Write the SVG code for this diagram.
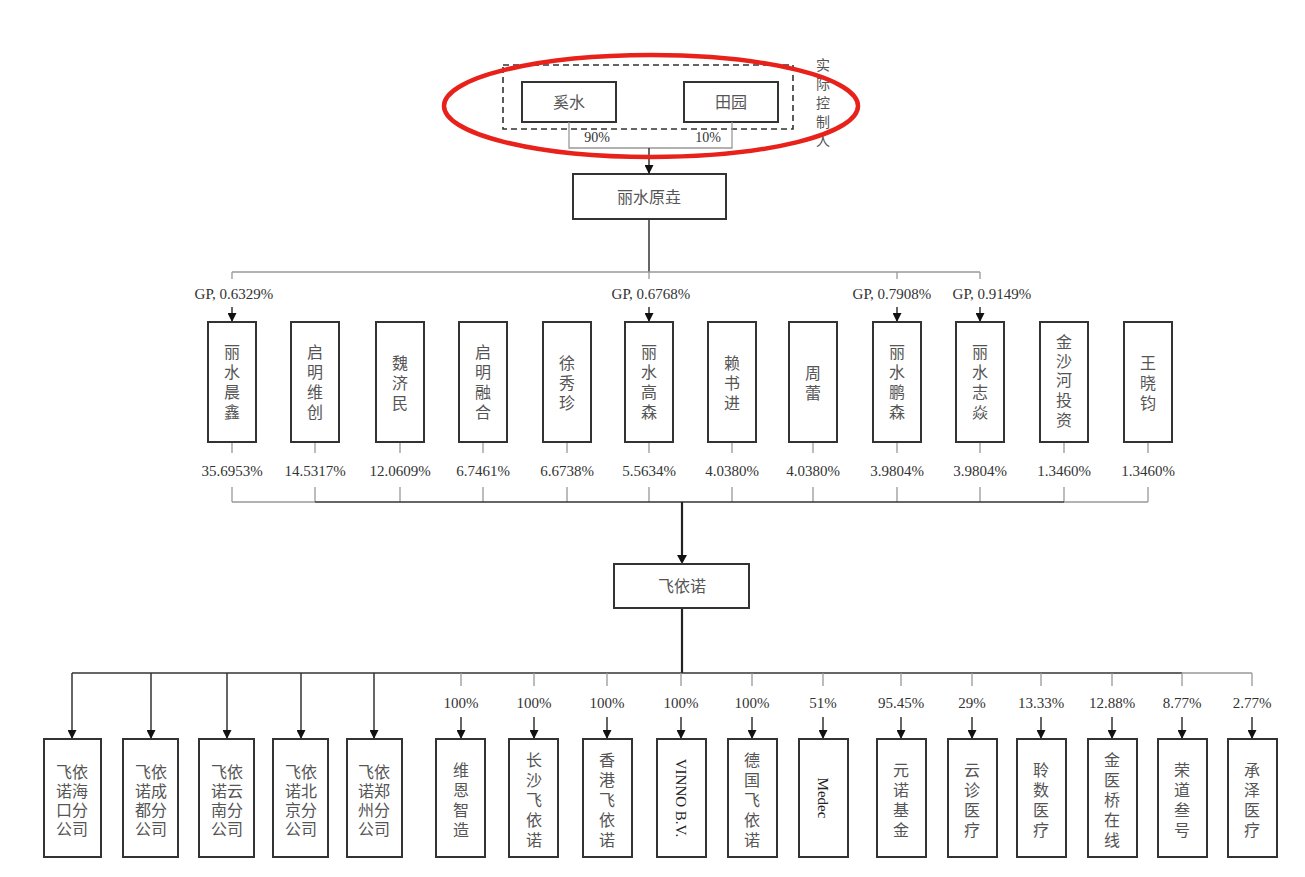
<svg xmlns="http://www.w3.org/2000/svg" width="1305" height="877" viewBox="0 0 1305 877">
<style>
.box{fill:#fff;stroke:#333;stroke-width:2}
.cjk{font-family:"Liberation Serif","Noto Sans CJK SC",serif;font-size:16px;fill:#555;text-anchor:middle;dominant-baseline:central}
.num{font-family:"Liberation Serif","Noto Sans CJK SC",serif;font-size:15px;fill:#333;text-anchor:middle;dominant-baseline:central}
.lat{font-family:"Liberation Serif",serif;font-size:15px;fill:#222;text-anchor:middle;dominant-baseline:central}
.ln{fill:none;stroke:#333;stroke-width:1.5}
.lg{fill:none;stroke:#999;stroke-width:1.3}
.thick{fill:none;stroke:#222;stroke-width:2.2}
.arr{fill:none;stroke:#333;stroke-width:1.5;marker-end:url(#ah)}
</style>
<defs>
<marker id="ah" viewBox="0 0 10 10" refX="10" refY="5" markerWidth="9" markerHeight="9" markerUnits="userSpaceOnUse" orient="auto">
<path d="M0,0 L10,5 L0,10 z" fill="#111"/>
</marker>
</defs>
<rect width="1305" height="877" fill="#fff"/>

<g id="controller">
<rect x="503" y="65" width="290" height="64" fill="none" stroke="#333" stroke-width="1.6" stroke-dasharray="6,4"/>
<text class="cjk" style="font-size:14px">
<tspan x="823" y="65">实</tspan><tspan x="823" y="84">际</tspan><tspan x="823" y="103">控</tspan><tspan x="823" y="122">制</tspan><tspan x="823" y="141">人</tspan>
</text>
</g>
<g id="n-xishui"><rect class="box" x="522" y="82" width="94" height="40"/><text class="cjk" x="569" y="102">奚水</text></g>
<g id="n-tianyuan"><rect class="box" x="684" y="82" width="94" height="40"/><text class="cjk" x="731" y="102">田园</text></g>
<g id="n-yuanyao"><rect class="box" x="573" y="174" width="153" height="45"/><text class="cjk" x="649" y="197">丽水原垚</text></g>

<g id="connectors">
<path class="lg" d="M569,122 V148 H732 V122"/>
<text class="num" x="597" y="137" style="font-size:14px">90%</text>
<text class="num" x="708" y="137" style="font-size:14px">10%</text>
<path class="arr" d="M649,148 V174"/>
<path class="ln" d="M649,219 V272"/>
<path class="lg" d="M232,272 H980"/>
<path class="lg" d="M232,272 V279 M649,272 V279 M897,272 V279 M980,272 V279"/>
<text class="num" x="234" y="294">GP, 0.6329%</text>
<text class="num" x="651" y="294">GP, 0.6768%</text>
<text class="num" x="892" y="294">GP, 0.7908%</text>
<text class="num" x="992" y="294">GP, 0.9149%</text>
<path class="arr" d="M232,307 V322"/>
<path class="arr" d="M649,307 V322"/>
<path class="arr" d="M897,307 V322"/>
<path class="arr" d="M980,307 V322"/>
<path class="lg" d="M232,442 V453 M315,442 V453 M400,442 V453 M483,442 V453 M567,442 V453 M649,442 V453 M732,442 V453 M813,442 V453 M897,442 V453 M980,442 V453 M1064,442 V453 M1148,442 V453"/>
<path class="lg" d="M232,487 V502 M315,487 V502 M400,487 V502 M483,487 V502 M567,487 V502 M649,487 V502 M732,487 V502 M813,487 V502 M897,487 V502 M980,487 V502 M1064,487 V502 M1148,487 V502"/>
<path class="lg" d="M232,502 H315"/>
<path class="ln" d="M315,502 H1064"/>
<path class="lg" d="M1064,502 H1148"/>
<text class="num" x="232" y="471">35.6953%</text>
<text class="num" x="315" y="471">14.5317%</text>
<text class="num" x="400" y="471">12.0609%</text>
<text class="num" x="483" y="471">6.7461%</text>
<text class="num" x="567" y="471">6.6738%</text>
<text class="num" x="649" y="471">5.5634%</text>
<text class="num" x="732" y="471">4.0380%</text>
<text class="num" x="813" y="471">4.0380%</text>
<text class="num" x="897" y="471">3.9804%</text>
<text class="num" x="980" y="471">3.9804%</text>
<text class="num" x="1064" y="471">1.3460%</text>
<text class="num" x="1148" y="471">1.3460%</text>
<path class="thick" d="M682,502 V556"/>
<path d="M677,555 L687,555 L682,564 z" fill="#111"/>
<path class="thick" d="M682,608 V673"/>
<path class="ln" d="M72,673 H1182"/>
<path class="lg" d="M1182,673 H1252"/>
<path class="arr" d="M72,673 V739"/>
<path class="arr" d="M151,673 V739"/>
<path class="arr" d="M227,673 V739"/>
<path class="arr" d="M301,673 V739"/>
<path class="arr" d="M374,673 V739"/>
<path class="lg" d="M461,673 V686 M534,673 V686 M607,673 V686 M681,673 V686 M752,673 V686 M823,673 V686 M901,673 V686 M972,673 V686 M1041,673 V686 M1112,673 V686 M1182,673 V686 M1252,673 V686"/>
<text class="num" x="461" y="703">100%</text>
<text class="num" x="534" y="703">100%</text>
<text class="num" x="607" y="703">100%</text>
<text class="num" x="681" y="703">100%</text>
<text class="num" x="752" y="703">100%</text>
<text class="num" x="823" y="703">51%</text>
<text class="num" x="901" y="703">95.45%</text>
<text class="num" x="972" y="703">29%</text>
<text class="num" x="1041" y="703">13.33%</text>
<text class="num" x="1112" y="703">12.88%</text>
<text class="num" x="1182" y="703">8.77%</text>
<text class="num" x="1252" y="703">2.77%</text>
<path class="arr" d="M461,717 V739"/>
<path class="arr" d="M534,717 V739"/>
<path class="arr" d="M607,717 V739"/>
<path class="arr" d="M681,717 V739"/>
<path class="arr" d="M752,717 V739"/>
<path class="arr" d="M823,717 V739"/>
<path class="arr" d="M901,717 V739"/>
<path class="arr" d="M972,717 V739"/>
<path class="arr" d="M1041,717 V739"/>
<path class="arr" d="M1112,717 V739"/>
<path class="arr" d="M1182,717 V739"/>
<path class="arr" d="M1252,717 V739"/>
</g>

<g id="m1"><rect class="box" x="208" y="322" width="48" height="120"/><text class="cjk"><tspan x="232" y="352">丽</tspan><tspan x="232" y="372">水</tspan><tspan x="232" y="392">晨</tspan><tspan x="232" y="412">鑫</tspan></text></g>
<g id="m2"><rect class="box" x="291" y="322" width="48" height="120"/><text class="cjk"><tspan x="315" y="352">启</tspan><tspan x="315" y="372">明</tspan><tspan x="315" y="392">维</tspan><tspan x="315" y="412">创</tspan></text></g>
<g id="m3"><rect class="box" x="376" y="322" width="48" height="120"/><text class="cjk"><tspan x="400" y="363">魏</tspan><tspan x="400" y="383">济</tspan><tspan x="400" y="403">民</tspan></text></g>
<g id="m4"><rect class="box" x="459" y="322" width="48" height="120"/><text class="cjk"><tspan x="483" y="352">启</tspan><tspan x="483" y="372">明</tspan><tspan x="483" y="392">融</tspan><tspan x="483" y="412">合</tspan></text></g>
<g id="m5"><rect class="box" x="543" y="322" width="48" height="120"/><text class="cjk"><tspan x="567" y="363">徐</tspan><tspan x="567" y="383">秀</tspan><tspan x="567" y="403">珍</tspan></text></g>
<g id="m6"><rect class="box" x="625" y="322" width="48" height="120"/><text class="cjk"><tspan x="649" y="352">丽</tspan><tspan x="649" y="372">水</tspan><tspan x="649" y="392">高</tspan><tspan x="649" y="412">森</tspan></text></g>
<g id="m7"><rect class="box" x="708" y="322" width="48" height="120"/><text class="cjk"><tspan x="732" y="363">赖</tspan><tspan x="732" y="383">书</tspan><tspan x="732" y="403">进</tspan></text></g>
<g id="m8"><rect class="box" x="789" y="322" width="48" height="120"/><text class="cjk"><tspan x="813" y="373">周</tspan><tspan x="813" y="393">蕾</tspan></text></g>
<g id="m9"><rect class="box" x="873" y="322" width="48" height="120"/><text class="cjk"><tspan x="897" y="352">丽</tspan><tspan x="897" y="372">水</tspan><tspan x="897" y="392">鹏</tspan><tspan x="897" y="412">森</tspan></text></g>
<g id="m10"><rect class="box" x="956" y="322" width="48" height="120"/><text class="cjk"><tspan x="980" y="352">丽</tspan><tspan x="980" y="372">水</tspan><tspan x="980" y="392">志</tspan><tspan x="980" y="412">焱</tspan></text></g>
<g id="m11"><rect class="box" x="1040" y="322" width="48" height="120"/><text class="cjk"><tspan x="1064" y="342">金</tspan><tspan x="1064" y="361">沙</tspan><tspan x="1064" y="380">河</tspan><tspan x="1064" y="400">投</tspan><tspan x="1064" y="420">资</tspan></text></g>
<g id="m12"><rect class="box" x="1124" y="322" width="48" height="120"/><text class="cjk"><tspan x="1148" y="363">王</tspan><tspan x="1148" y="383">晓</tspan><tspan x="1148" y="403">钧</tspan></text></g>

<g id="n-feiyinuo"><rect class="box" x="614" y="564" width="135" height="44"/><text class="cjk" x="682" y="586">飞依诺</text></g>

<g id="b1"><rect class="box" x="44" y="739" width="57" height="118"/><text class="cjk"><tspan x="72" y="772">飞依</tspan><tspan x="72" y="791">诺海</tspan><tspan x="72" y="810">口分</tspan><tspan x="72" y="829">公司</tspan></text></g>
<g id="b2"><rect class="box" x="123" y="739" width="55" height="118"/><text class="cjk"><tspan x="151" y="772">飞依</tspan><tspan x="151" y="791">诺成</tspan><tspan x="151" y="810">都分</tspan><tspan x="151" y="829">公司</tspan></text></g>
<g id="b3"><rect class="box" x="199" y="739" width="55" height="118"/><text class="cjk"><tspan x="227" y="772">飞依</tspan><tspan x="227" y="791">诺云</tspan><tspan x="227" y="810">南分</tspan><tspan x="227" y="829">公司</tspan></text></g>
<g id="b4"><rect class="box" x="273" y="739" width="55" height="118"/><text class="cjk"><tspan x="301" y="772">飞依</tspan><tspan x="301" y="791">诺北</tspan><tspan x="301" y="810">京分</tspan><tspan x="301" y="829">公司</tspan></text></g>
<g id="b5"><rect class="box" x="347" y="739" width="55" height="118"/><text class="cjk"><tspan x="374" y="772">飞依</tspan><tspan x="374" y="791">诺郑</tspan><tspan x="374" y="810">州分</tspan><tspan x="374" y="829">公司</tspan></text></g>

<g id="s1"><rect class="box" x="436" y="739" width="49" height="118"/><text class="cjk"><tspan x="461" y="770">维</tspan><tspan x="461" y="790">恩</tspan><tspan x="461" y="810">智</tspan><tspan x="461" y="830">造</tspan></text></g>
<g id="s2"><rect class="box" x="509" y="739" width="49" height="118"/><text class="cjk"><tspan x="534" y="760">长</tspan><tspan x="534" y="780">沙</tspan><tspan x="534" y="800">飞</tspan><tspan x="534" y="820">依</tspan><tspan x="534" y="840">诺</tspan></text></g>
<g id="s3"><rect class="box" x="583" y="739" width="49" height="118"/><text class="cjk"><tspan x="607" y="760">香</tspan><tspan x="607" y="780">港</tspan><tspan x="607" y="800">飞</tspan><tspan x="607" y="820">依</tspan><tspan x="607" y="840">诺</tspan></text></g>
<g id="s4"><rect class="box" x="657" y="739" width="49" height="118"/><text class="lat" transform="translate(681,798) rotate(90)" x="0" y="0">VINNO B.V.</text></g>
<g id="s5"><rect class="box" x="728" y="739" width="49" height="118"/><text class="cjk"><tspan x="752" y="760">德</tspan><tspan x="752" y="780">国</tspan><tspan x="752" y="800">飞</tspan><tspan x="752" y="820">依</tspan><tspan x="752" y="840">诺</tspan></text></g>
<g id="s6"><rect class="box" x="799" y="739" width="49" height="118"/><text class="lat" transform="translate(823,798) rotate(90)" x="0" y="0">Medec</text></g>
<g id="s7"><rect class="box" x="877" y="739" width="49" height="118"/><text class="cjk"><tspan x="901" y="770">元</tspan><tspan x="901" y="790">诺</tspan><tspan x="901" y="810">基</tspan><tspan x="901" y="830">金</tspan></text></g>
<g id="s8"><rect class="box" x="948" y="739" width="49" height="118"/><text class="cjk"><tspan x="972" y="770">云</tspan><tspan x="972" y="790">诊</tspan><tspan x="972" y="810">医</tspan><tspan x="972" y="830">疗</tspan></text></g>
<g id="s9"><rect class="box" x="1017" y="739" width="49" height="118"/><text class="cjk"><tspan x="1041" y="770">聆</tspan><tspan x="1041" y="790">数</tspan><tspan x="1041" y="810">医</tspan><tspan x="1041" y="830">疗</tspan></text></g>
<g id="s10"><rect class="box" x="1088" y="739" width="49" height="118"/><text class="cjk"><tspan x="1112" y="760">金</tspan><tspan x="1112" y="780">医</tspan><tspan x="1112" y="800">桥</tspan><tspan x="1112" y="820">在</tspan><tspan x="1112" y="840">线</tspan></text></g>
<g id="s11"><rect class="box" x="1158" y="739" width="49" height="118"/><text class="cjk"><tspan x="1182" y="770">荣</tspan><tspan x="1182" y="790">道</tspan><tspan x="1182" y="810">叁</tspan><tspan x="1182" y="830">号</tspan></text></g>
<g id="s12"><rect class="box" x="1228" y="739" width="49" height="118"/><text class="cjk"><tspan x="1252" y="770">承</tspan><tspan x="1252" y="790">泽</tspan><tspan x="1252" y="810">医</tspan><tspan x="1252" y="830">疗</tspan></text></g>

<g id="highlight">
<ellipse cx="651" cy="106" rx="207" ry="51" fill="none" stroke="#e8221b" stroke-width="4.5"/>
</g>
</svg>
